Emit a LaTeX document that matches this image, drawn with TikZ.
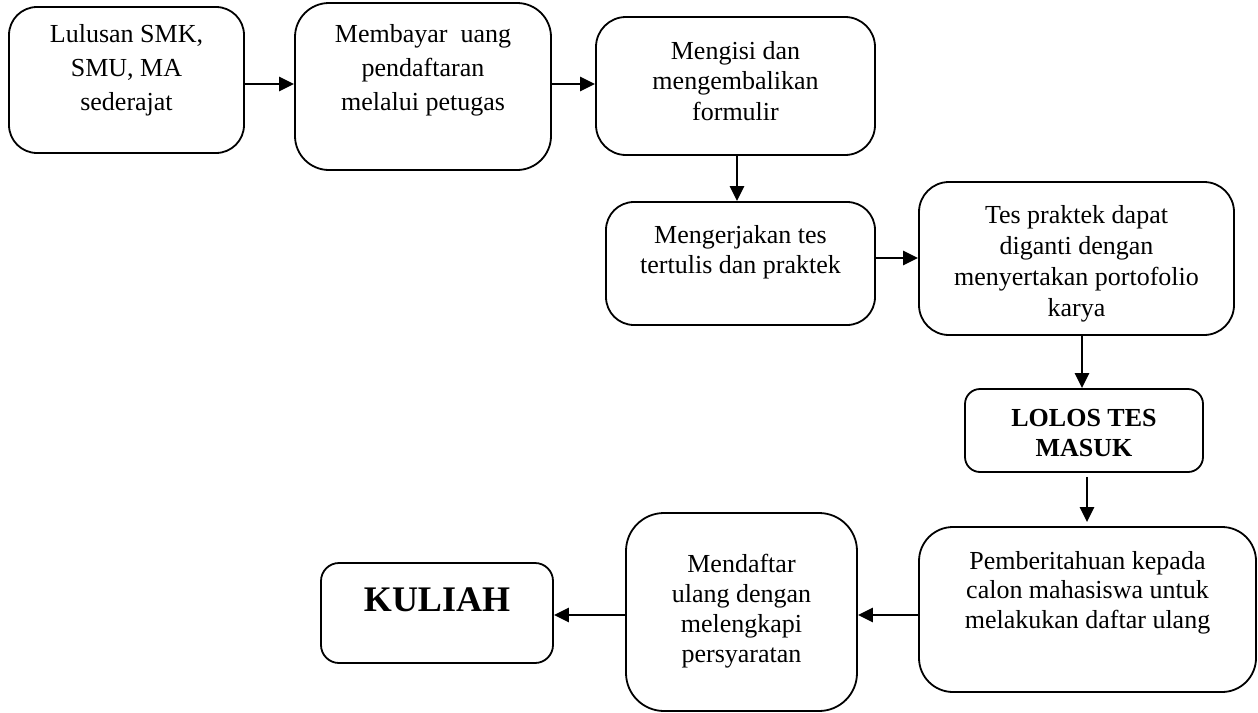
\documentclass[tikz,border=0pt]{standalone}
\usepackage{fontspec}
\setmainfont{Liberation Serif}
\usetikzlibrary{arrows.meta,calc}
\begin{document}
\begin{tikzpicture}[x=1pt,y=-1pt,
  box/.style={draw=black,line width=1.8pt,rectangle,rounded corners=#1,inner sep=0pt},
  box/.default=30pt,
  txt/.style={align=center,inner sep=0pt,anchor=north,font=\fontsize{26}{#1}\selectfont},
  txt/.default=31,
  arr/.style={line width=2.4pt,-{Triangle[length=15pt,width=14pt]}}
]
\useasboundingbox (0,0) rectangle (1258,712);
\fill[white] (0,0) rectangle (1258,712);

% boxes
\node[box=28pt,minimum width=235pt,minimum height=146pt] (b1) at (126.5,80) {};
\node[box=34pt,minimum width=256pt,minimum height=167pt] (b2) at (423,86.5) {};
\node[box=30pt,minimum width=279pt,minimum height=138pt] (b3) at (735.5,86) {};
\node[box=28pt,minimum width=269pt,minimum height=123pt] (b4) at (740.5,263.5) {};
\node[box=30pt,minimum width=315pt,minimum height=153pt] (b5) at (1076.5,258.5) {};
\node[box=15pt,minimum width=238pt,minimum height=83pt] (b6) at (1084,430.5) {};
\node[box=34pt,minimum width=337pt,minimum height=165pt] (b7) at (1087.5,609.5) {};
\node[box=38pt,minimum width=231pt,minimum height=198pt] (b8) at (741.5,612) {};
\node[box=18pt,minimum width=232pt,minimum height=100pt] (b9) at (437,613) {};

% texts
\node[txt=34] (t1) at (126.5,24) {Lulusan SMK,\\SMU, MA\\sederajat};
\node[txt=34] (t2) at (423,24) {Membayar\ \ uang\\pendaftaran\\melalui petugas};
\node[txt=30.5] (t3) at (735.5,41) {Mengisi dan\\mengembalikan\\formulir};
\node[txt=30] (t4) at (740.5,225) {Mengerjakan tes\\tertulis dan praktek};
\node[txt=31] (t5) at (1076.5,205) {Tes praktek dapat\\diganti dengan\\menyertakan portofolio\\karya};
\node[txt=30,font=\fontsize{26}{30}\selectfont\bfseries] (t6) at (1084,409.5) {LOLOS TES\\MASUK};
\node[txt=29.5] (t7) at (1087.5,551) {Pemberitahuan kepada\\calon mahasiswa untuk\\melakukan daftar ulang};
\node[txt=30] (t8) at (741.5,554) {Mendaftar\\ulang dengan\\melengkapi\\persyaratan};
\node[txt=40,font=\fontsize{36}{40}\selectfont\bfseries] (t9) at (437,588) {KULIAH};

% connectors
\draw[arr] ([yshift=-4pt]b1.east) -- ([yshift=-4pt]b1.east -| b2.west);
\draw[arr] ([yshift=2.5pt]b2.east) -- ([yshift=2.5pt]b2.east -| b3.west);
\draw[arr] ([xshift=1.5pt]b3.south) -- ([xshift=1.5pt]b3.south |- b4.north);
\draw[arr] ([yshift=5.5pt]b4.east) -- ([yshift=5.5pt]b4.east -| b5.west);
\draw[arr] ([xshift=5.5pt]b5.south) -- ([xshift=5.5pt]b5.south |- b6.north);
\draw[arr,shorten <=4pt,shorten >=4pt] ([xshift=3pt]b6.south) -- ([xshift=3pt]b6.south |- b7.north);
\draw[arr] ([yshift=-5.5pt]b7.west) -- ([yshift=-5.5pt]b7.west -| b8.east);
\draw[arr] ([yshift=-3pt]b8.west) -- ([yshift=-3pt]b8.west -| b9.east);
\end{tikzpicture}
\end{document}
